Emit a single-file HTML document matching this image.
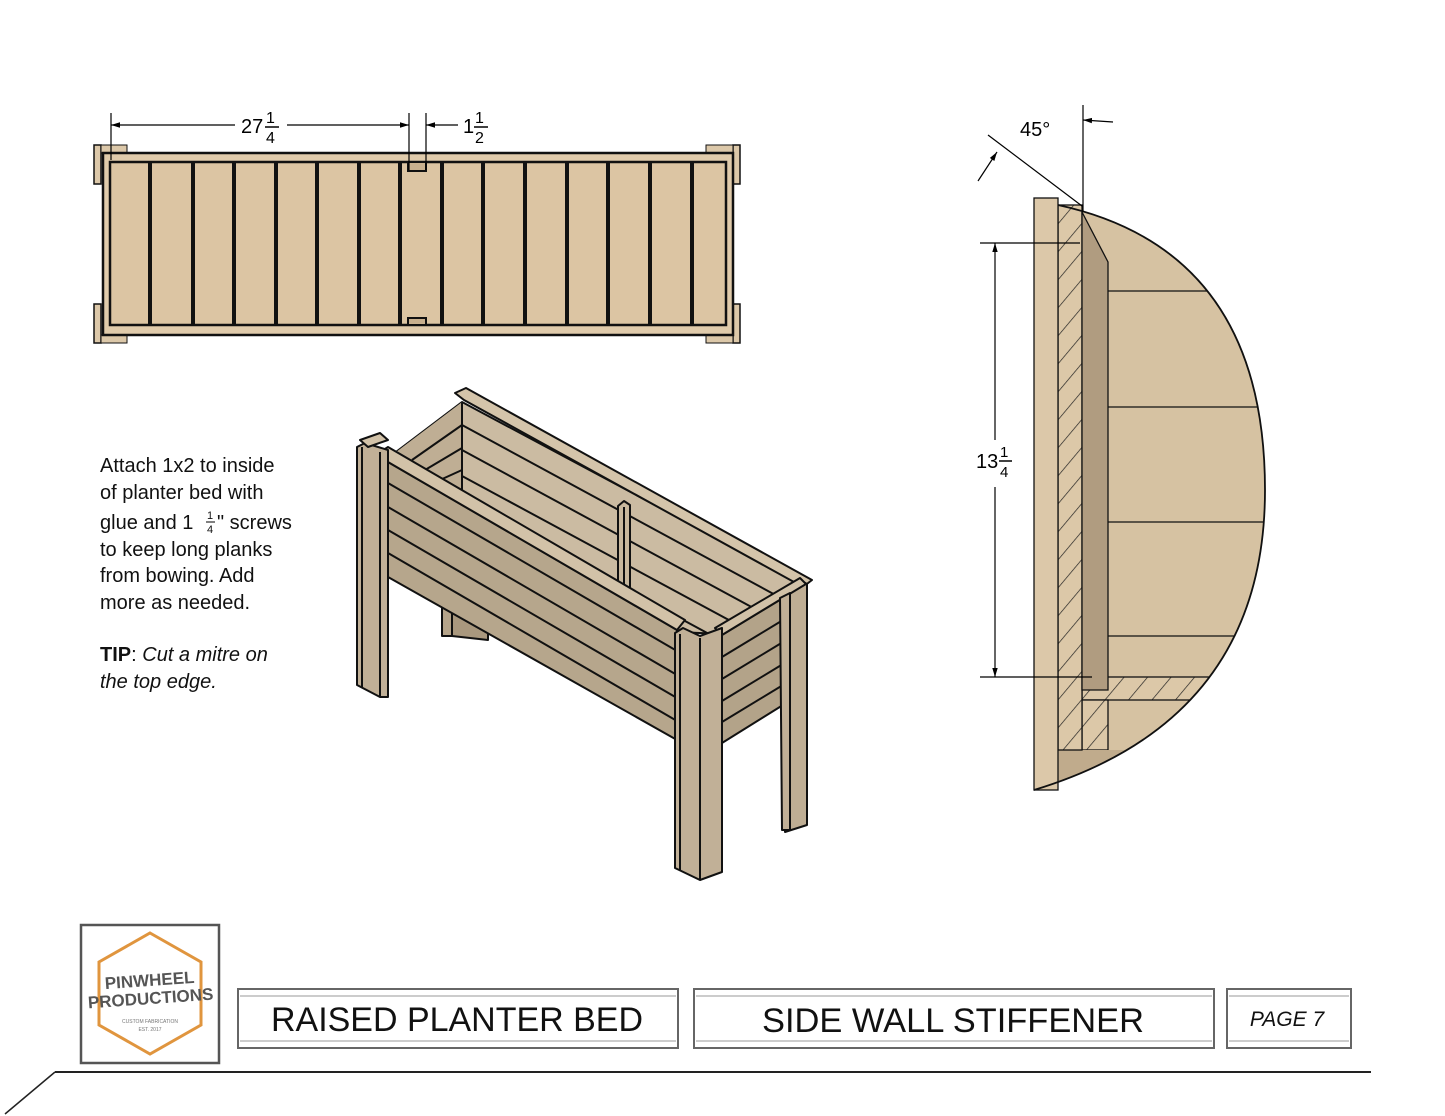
<!DOCTYPE html>
<html><head><meta charset="utf-8"><style>
html,body{margin:0;padding:0;background:#fff;}
svg{display:block;}
text{font-family:"Liberation Sans",sans-serif;}
</style></head><body>
<svg width="1445" height="1116" viewBox="0 0 1445 1116" xmlns="http://www.w3.org/2000/svg">
<defs>
<marker id="ar" viewBox="0 0 10 10" refX="10" refY="5" markerWidth="9" markerHeight="9" orient="auto-start-reverse" markerUnits="userSpaceOnUse"><path d="M0,2 L10,5 L0,8 z" fill="#000"/></marker>
<clipPath id="circ"><path d="M1058,205 Q1265,250 1265,490 Q1265,720 1034,790 L1034,205 Z"/></clipPath>
<clipPath id="inner"><polygon points="388,458 462,402 803,584 722,634 677,632"/></clipPath>
<pattern id="hat" width="18" height="18" patternUnits="userSpaceOnUse" patternTransform="rotate(40)"><rect width="18" height="18" fill="#dcc8a8"/><line x1="0" y1="0" x2="0" y2="18" stroke="#222" stroke-width="1.4"/></pattern>
</defs>

<!-- TOP VIEW -->
<g stroke="#111">
<rect x="94" y="145" width="7" height="39" fill="#dcc8a9" stroke-width="1.5"/>
<rect x="101" y="145" width="26" height="8" fill="#dcc8a9" stroke-width="1"/>
<rect x="94" y="304" width="7" height="39" fill="#dcc8a9" stroke-width="1.5"/>
<rect x="101" y="335" width="26" height="8" fill="#dcc8a9" stroke-width="1"/>
<rect x="733" y="145" width="7" height="39" fill="#dcc8a9" stroke-width="1.5"/>
<rect x="706" y="145" width="27" height="8" fill="#dcc8a9" stroke-width="1"/>
<rect x="733" y="304" width="7" height="39" fill="#dcc8a9" stroke-width="1.5"/>
<rect x="706" y="335" width="27" height="8" fill="#dcc8a9" stroke-width="1"/>
<rect x="103" y="153" width="630" height="182" fill="#e0cbab" stroke-width="2.5"/>
<rect x="110" y="162" width="616" height="163" fill="#dcc5a3" stroke-width="2.5"/>
<g stroke-width="4">
<line x1="150" y1="162" x2="150" y2="325"/><line x1="193" y1="162" x2="193" y2="325"/><line x1="234" y1="162" x2="234" y2="325"/><line x1="276" y1="162" x2="276" y2="325"/><line x1="317" y1="162" x2="317" y2="325"/><line x1="359" y1="162" x2="359" y2="325"/><line x1="400" y1="162" x2="400" y2="325"/><line x1="442" y1="162" x2="442" y2="325"/><line x1="483" y1="162" x2="483" y2="325"/><line x1="525" y1="162" x2="525" y2="325"/><line x1="567" y1="162" x2="567" y2="325"/><line x1="608" y1="162" x2="608" y2="325"/><line x1="650" y1="162" x2="650" y2="325"/><line x1="692" y1="162" x2="692" y2="325"/>
</g>
<rect x="408" y="162" width="18" height="9" fill="#c8b08e" stroke-width="2"/>
<rect x="408" y="318" width="18" height="7" fill="#c8b08e" stroke-width="2"/>
</g>
<g stroke="#000" stroke-width="1.2">
<line x1="111" y1="113" x2="111" y2="160"/><line x1="409" y1="113" x2="409" y2="170"/><line x1="426" y1="113" x2="426" y2="170"/>
<line x1="111" y1="125" x2="235" y2="125" marker-start="url(#ar)"/>
<line x1="287" y1="125" x2="409" y2="125" marker-end="url(#ar)"/>
<line x1="458" y1="125" x2="426" y2="125" marker-end="url(#ar)"/>
</g>
<text x="241" y="133" font-size="20">27</text>
<text x="266" y="123" font-size="16">1</text><line x1="265" y1="127" x2="279" y2="127" stroke="#000" stroke-width="1.5"/><text x="266" y="143" font-size="16">4</text>
<text x="463" y="133" font-size="20">1</text>
<text x="475" y="123" font-size="16">1</text><line x1="474" y1="127" x2="488" y2="127" stroke="#000" stroke-width="1.5"/><text x="475" y="143" font-size="16">2</text>

<!-- ISO VIEW -->
<g stroke="#111" stroke-width="2" stroke-linejoin="round">
<polygon points="388,458 462,402 803,584 722,634 677,632" fill="#cbbba2"/>
<g clip-path="url(#inner)" stroke-width="2">
<line x1="462" y1="425" x2="803" y2="610"/><line x1="462" y1="450" x2="803" y2="635"/><line x1="462" y1="476" x2="803" y2="660"/><line x1="462" y1="500" x2="803" y2="685"/>
<polygon points="462,402 462,490 388,540 388,458" fill="#bfae94" stroke="none"/>
<line x1="412" y1="460" x2="462" y2="425"/><line x1="425" y1="470" x2="462" y2="448"/><line x1="440" y1="480" x2="462" y2="470"/><line x1="462" y1="402" x2="462" y2="490"/>
</g>
<polygon points="455,393 466,388 812,580 803,587 464,400" fill="#d4c4aa"/>
<polygon points="783,590 800,580 807,584 807,825 785,832" fill="#bfae94"/>
<line x1="790" y1="588" x2="790" y2="830"/>
<polygon points="442,608 452,600 452,636 442,636" fill="#b5a48a"/>
<polygon points="452,612 488,628 488,640 452,636" fill="#a9987e"/>
<polygon points="618,506 624,501 630,505 630,590 618,590" fill="#c8b89e"/>
<line x1="624" y1="507" x2="624" y2="590"/>
<polygon points="388,462 677,630 677,740 388,577" fill="#b6a68c"/>
<line x1="388" y1="483" x2="677" y2="651"/><line x1="388" y1="507" x2="677" y2="675"/><line x1="388" y1="530" x2="677" y2="698"/><line x1="388" y1="553" x2="677" y2="721"/>
<polygon points="380,452 388,447 685,620 677,630 388,462" fill="#d2c2a8"/>
<polygon points="357,447 365,443 388,450 388,697 380,697 357,685" fill="#c1b097"/>
<line x1="362" y1="447" x2="362" y2="688"/><line x1="380" y1="452" x2="380" y2="697"/>
<polygon points="360,440 380,433 388,440 368,447" fill="#d2c2a8"/>
<polygon points="722,635 783,598 783,705 722,743" fill="#b3a389"/>
<line x1="722" y1="657" x2="783" y2="620"/><line x1="722" y1="679" x2="783" y2="642"/><line x1="722" y1="701" x2="783" y2="664"/><line x1="722" y1="722" x2="783" y2="685"/>
<polygon points="715,628 800,578 806,584 722,635" fill="#d2c2a8"/>
<polygon points="675,633 683,628 700,636 722,628 722,872 700,880 675,868" fill="#c1b097"/>
<line x1="680" y1="634" x2="680" y2="870"/><line x1="700" y1="638" x2="700" y2="880"/>
<polygon points="780,598 790,593 790,830 782,830" fill="#c1b097"/>
</g>

<!-- SECTION VIEW -->
<path d="M1058,205 Q1265,250 1265,490 Q1265,720 1034,790 L1034,198 Z" fill="#d6c2a2"/>
<g clip-path="url(#circ)" stroke="#111" stroke-width="1.3">
<line x1="1108" y1="291" x2="1280" y2="291"/><line x1="1108" y1="407" x2="1280" y2="407"/><line x1="1108" y1="522" x2="1280" y2="522"/><line x1="1108" y1="636" x2="1280" y2="636"/>
<rect x="1082" y="677" width="200" height="23" fill="url(#hat)"/>
<rect x="1082" y="700" width="26" height="50" fill="url(#hat)"/>
<rect x="1058" y="750" width="230" height="50" fill="#c0ab8c" stroke="none"/>
</g>
<rect x="1058" y="205" width="24" height="545" fill="url(#hat)" stroke="#111" stroke-width="1.3"/>
<polygon points="1082,212 1108,262 1108,690 1082,690" fill="#b09c80" stroke="#111" stroke-width="1.3"/>
<rect x="1034" y="198" width="24" height="592" fill="#dcc8a9" stroke="#111" stroke-width="1.3"/>
<path d="M1058,205 Q1265,250 1265,490 Q1265,720 1034,790" fill="none" stroke="#111" stroke-width="1.8"/>
<g stroke="#000" stroke-width="1.2">
<line x1="1083" y1="105" x2="1083" y2="212"/>
<line x1="1113" y1="122" x2="1083" y2="120" marker-end="url(#ar)"/>
<line x1="988" y1="135" x2="1082" y2="206"/>
<line x1="978" y1="181" x2="997" y2="152" marker-end="url(#ar)"/>
<line x1="980" y1="243" x2="1080" y2="243"/><line x1="980" y1="677" x2="1092" y2="677"/>
<line x1="995" y1="243" x2="995" y2="440" marker-start="url(#ar)"/>
<line x1="995" y1="487" x2="995" y2="677" marker-end="url(#ar)"/>
</g>
<text x="1020" y="136" font-size="20">45°</text>
<text x="976" y="468" font-size="20">13</text>
<text x="1000" y="457" font-size="15">1</text><line x1="999" y1="461" x2="1012" y2="461" stroke="#000" stroke-width="1.5"/><text x="1000" y="477" font-size="15">4</text>

<!-- NOTES -->
<g font-size="20" fill="#111">
<text x="100" y="472">Attach 1x2 to inside</text>
<text x="100" y="499">of planter bed with</text>
<text x="100" y="529">glue and 1</text>
<text x="207" y="519" font-size="11">1</text><line x1="206" y1="522" x2="215" y2="522" stroke="#000"/><text x="207" y="533" font-size="11">4</text>
<text x="217" y="529">" screws</text>
<text x="100" y="556">to keep long planks</text>
<text x="100" y="582">from bowing. Add</text>
<text x="100" y="609">more as needed.</text>
<text x="100" y="661"><tspan font-weight="bold">TIP</tspan>: <tspan font-style="italic">Cut a mitre on</tspan></text>
<text x="100" y="688" font-style="italic">the top edge.</text>
</g>

<!-- FOOTER -->
<rect x="81" y="925" width="138" height="138" fill="#fff" stroke="#555" stroke-width="2.5"/>
<polygon points="150,933 201,962 201,1025 150,1054 99,1025 99,962" fill="none" stroke="#e0953e" stroke-width="3"/>
<text x="150" y="986" font-size="17" font-weight="bold" fill="#555" text-anchor="middle" transform="rotate(-4 150 986)">PINWHEEL</text>
<text x="151" y="1004" font-size="17" font-weight="bold" fill="#555" text-anchor="middle" transform="rotate(-4 151 1004)">PRODUCTIONS</text>
<text x="150" y="1023" font-size="5" fill="#777" text-anchor="middle">CUSTOM FABRICATION</text>
<text x="150" y="1031" font-size="5" fill="#777" text-anchor="middle">EST. 2017</text>
<g fill="#fff" stroke="#666" stroke-width="2">
<rect x="238" y="989" width="440" height="59"/>
<rect x="694" y="989" width="520" height="59"/>
<rect x="1227" y="989" width="124" height="59"/>
</g>
<g stroke="#999" stroke-width="1">
<line x1="240" y1="996" x2="676" y2="996"/><line x1="240" y1="1041" x2="676" y2="1041"/>
<line x1="696" y1="996" x2="1212" y2="996"/><line x1="696" y1="1041" x2="1212" y2="1041"/>
<line x1="1229" y1="996" x2="1349" y2="996"/><line x1="1229" y1="1041" x2="1349" y2="1041"/>
</g>
<text x="457" y="1031" font-size="34" text-anchor="middle" fill="#111" textLength="372" lengthAdjust="spacingAndGlyphs">RAISED PLANTER BED</text>
<text x="953" y="1032" font-size="34" text-anchor="middle" fill="#111" textLength="382" lengthAdjust="spacingAndGlyphs">SIDE WALL STIFFENER</text>
<text x="1287" y="1026" font-size="21" font-style="italic" text-anchor="middle" fill="#111">PAGE 7</text>
<line x1="55" y1="1072" x2="1371" y2="1072" stroke="#222" stroke-width="2"/>
<line x1="55" y1="1072" x2="5" y2="1114" stroke="#222" stroke-width="1.5"/>
</svg>
</body></html>
